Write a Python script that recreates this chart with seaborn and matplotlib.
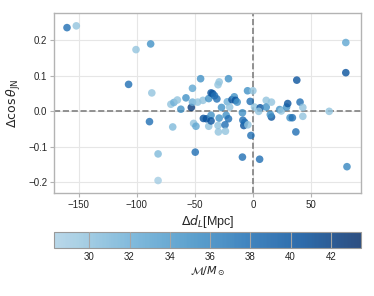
import numpy as np
import pandas as pd
import seaborn as sns
import matplotlib.pyplot as plt
import matplotlib as mpl
from matplotlib.colors import ListedColormap, Normalize

# offsets
delta_dl = [-160, -152, -100.6, -88, -107, -87, -89, -69, -70.6, -68, -65, -62, -57.6, -53,
            -52, -52, -51, -49, -45, -47.5, -43, -42.6, -40, -38, -38, -36, -36, -36, -34.6,
            -33, -31, -30, -29, -30, -29.7, -29, -27, -24, -23.6, -23, -21, -22, -21, -20,
            -18, -16, -15, -13.5, -9, -8.6, -7.8, -7, -4.3, -4.6, -2.3, 0, -1.7, 1.4, 6.3,
            5, 11.5, 11.5, 16, 16, 15, 23, 24.5, 29, 30, 32, 34, 37, 37.8, 40.6, 43, 43,
            65.7, 80, 80, -81.6, -81.6, -49.6, -9, 5.8, 81]
delta_cos = [0.236, 0.241, 0.174, 0.190, 0.076, 0.052, -0.029, -0.044, 0.020, 0.025, 0.032,
             0.006, 0.038, 0.011, 0.065, 0.026, -0.034, -0.042, 0.092, 0.026, 0.031, -0.020,
             -0.021, 0.036, -0.042, -0.011, -0.027, 0.052, 0.050, 0.044, 0.035, 0.075, 0.083,
             -0.040, -0.058, -0.019, 0.011, -0.038, -0.056, -0.011, 0.092, 0.027, -0.021,
             0.012, 0.033, 0.041, 0.031, 0.026, -0.004, -0.025, -0.040, -0.031, -0.038, 0.058,
             0.028, 0.058, -0.068, 0.012, 0.010, 0.000, 0.031, 0.012, 0.026, -0.016, -0.009,
             0.005, 0.001, 0.012, 0.022, -0.018, -0.018, -0.058, 0.088, 0.026, 0.011, -0.014,
             0.000, 0.194, 0.109, -0.120, -0.195, -0.115, -0.129, -0.135, -0.156]
chirp_mass = [38, 30, 30, 35, 38, 30, 38, 31, 30, 32, 30, 35, 35, 42.5,
              33, 32, 30, 33, 35, 30, 30, 40.5, 40.5, 35, 30, 35, 40.5, 40.5, 40.5,
              38, 38, 30, 30, 30, 30, 35, 35, 38, 30, 35, 35, 32, 38, 30,
              40.5, 35, 40.5, 35, 35, 38, 40.5, 38, 30, 35, 38, 30, 38, 30, 40.5,
              30, 30, 35, 30, 40.5, 35, 35, 30, 35, 40.5, 35, 38, 38, 40.5, 38, 30, 30,
              30, 33, 40.5, 31, 29, 38, 38, 38, 36]

df = pd.DataFrame({"ddl": delta_dl, "dcos": delta_cos, "mc": chirp_mass})

sns.set_style("whitegrid", {"axes.edgecolor": "0.7", "grid.color": "0.9",
                            "xtick.bottom": True, "ytick.left": True,
                            "xtick.color": "0.15", "ytick.color": "0.15"})
plt.rcParams['font.family'] = ['Liberation Sans', 'DejaVu Sans']
plt.rcParams['mathtext.fontset'] = 'dejavusans'

cmap = ListedColormap(plt.get_cmap("Blues")(np.linspace(0.33, 1.0, 256)))
norm = Normalize(vmin=28.26, vmax=43.49)

fig = plt.figure(figsize=(3.74, 2.96), dpi=100)
ax = fig.add_axes([0.145, 0.347, 0.820, 0.610])
cax = fig.add_axes([0.145, 0.163, 0.820, 0.052])

sns.scatterplot(data=df, x="ddl", y="dcos", hue="mc", palette=cmap, hue_norm=norm,
                s=30, alpha=0.8, linewidth=0, legend=False, ax=ax, zorder=3)
ax.axvline(0, color="0.5", ls="--", lw=1.2, zorder=2)
ax.axhline(0, color="0.5", ls="--", lw=1.2, zorder=2)
ax.set_xlim(-171, 93)
ax.set_ylim(-0.231, 0.278)
ax.set_xticks([-150, -100, -50, 0, 50])
ax.set_yticks([-0.2, -0.1, 0.0, 0.1, 0.2])
ax.tick_params(labelsize=7, length=3, width=0.8, color="0.7", pad=2)
ax.set_xlabel(r"$\Delta d_L$[Mpc]", fontsize=9, labelpad=2)
ax.set_ylabel(r"$\Delta\cos\theta_{\rm JN}$", fontsize=9, labelpad=4)
for sp in ax.spines.values():
    sp.set_linewidth(1.0)

sm = mpl.cm.ScalarMappable(norm=norm, cmap=cmap)
cb = fig.colorbar(sm, cax=cax, orientation="horizontal", alpha=0.85)
cb.set_ticks([30, 32, 34, 36, 38, 40, 42])
cb.outline.set_edgecolor("0.6")
cax.tick_params(labelsize=7, length=0, pad=3)
cax.xaxis.grid(True, color="0.65", lw=0.8)
cax.set_axisbelow(False)
cb.set_label(r"$\mathcal{M}/M_\odot$", fontsize=8, labelpad=2)

fig.savefig("out.png", dpi=100)
